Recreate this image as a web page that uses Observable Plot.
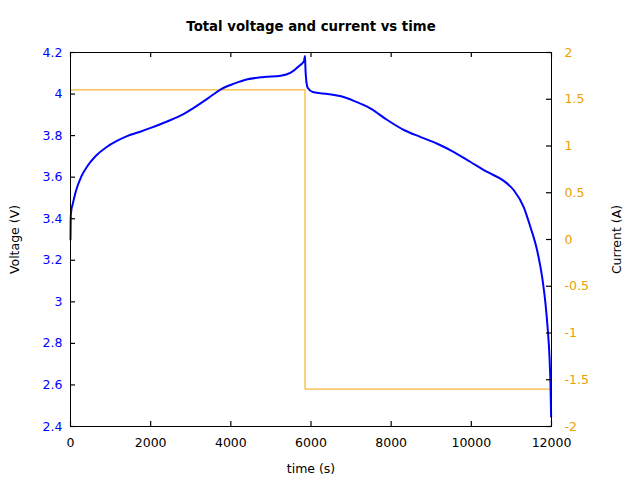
<!DOCTYPE html>
<html><head><meta charset="utf-8">
<script src="https://cdn.jsdelivr.net/npm/d3@7"></script>
<script src="https://cdn.jsdelivr.net/npm/@observablehq/plot@0.6"></script>
<style>body{margin:0;background:#fff} svg{display:block}</style>
</head><body><div id="chart"></div>
<script>
const timeS = [0, 5, 20, 55, 137, 262, 428, 635, 885, 1134, 1383, 1757, 2000, 2255, 2754, 3085, 3419, 3750, 4082, 4415, 4830, 5246, 5495, 5702, 5826, 5850, 5862, 5875, 5917, 6042, 6417, 6750, 7083, 7489, 7904, 8318, 8735, 9151, 9565, 9981, 10397, 10811, 11060, 11309, 11476, 11642, 11767, 11850, 11908, 11950, 11974, 11991];
const voltageV = [3.30, 3.40, 3.44, 3.47, 3.535, 3.60, 3.655, 3.703, 3.743, 3.772, 3.795, 3.82, 3.837, 3.856, 3.897, 3.935, 3.978, 4.023, 4.05, 4.071, 4.082, 4.088, 4.103, 4.135, 4.16, 4.183, 4.12, 4.08, 4.03, 4.01, 4.0, 3.989, 3.966, 3.93, 3.875, 3.827, 3.793, 3.761, 3.721, 3.673, 3.625, 3.582, 3.537, 3.455, 3.359, 3.247, 3.119, 2.991, 2.863, 2.735, 2.607, 2.447];
const currentTimeS = [0, 5851, 11991];
const currentA = [1.6, -1.6, -1.6];
const xTicks = [0, 2000, 4000, 6000, 8000, 10000, 12000];
const voltageTicks = [2.4, 2.6, 2.8, 3.0, 3.2, 3.4, 3.6, 3.8, 4.0, 4.2];
const currentTicks = [-2, -1.5, -1, -0.5, 0, 0.5, 1, 1.5, 2];
const title = "Total voltage and current vs time";
const xLabel = "time (s)";
const yLabel = "Voltage (V)";
const y2Label = "Current (A)";

const vData = timeS.map((t, i) => ({t, v: voltageV[i]}));
const cData = currentTimeS.map((t, i) => ({t, a: currentA[i]}));
const toV = d3.scaleLinear().domain([-2, 2]).range([2.4, 4.2]);

const blue = "#0000ff", orange = "#f4a300", orangeText = "#eba000";
const fs = 12.5;
const W = 640, H = 480, mL = 70, mR = 89, mT = 52, mB = 54, tick = 5;
const fw = W - mL - mR, fh = H - mT - mB;
const tickStroke = "black";

const chart = Plot.plot({
  width: W, height: H,
  marginLeft: mL, marginRight: mR, marginTop: mT, marginBottom: mB,
  style: {fontFamily: "'DejaVu Sans', sans-serif", fontSize: fs + "px", background: "#fff", color: "black"},
  x: {domain: [0, 12000]},
  y: {domain: [2.4, 4.2]},
  marks: [
    Plot.line(cData, {x: "t", y: d => toV(d.a), stroke: orange, strokeWidth: 1, curve: "step-after"}),
    Plot.line(vData, {x: "t", y: "v", stroke: blue, strokeWidth: 2, curve: "monotone-x"}),
    Plot.tickX(xTicks, {x: d => d, insetTop: fh - tick, stroke: tickStroke, strokeWidth: 1.2}),
    Plot.tickX(xTicks, {x: d => d, insetBottom: fh - tick, stroke: tickStroke, strokeWidth: 1.2}),
    Plot.tickY(voltageTicks, {y: d => d, insetRight: fw - tick, stroke: tickStroke, strokeWidth: 1.2}),
    Plot.tickY(currentTicks, {y: d => toV(d), insetLeft: fw - tick, stroke: tickStroke, strokeWidth: 1.2}),
    Plot.axisX(xTicks, {anchor: "bottom", tickSize: 0, tickPadding: 12, tickFormat: d => String(d), label: null, fill: "black"}),
    Plot.axisY(voltageTicks, {anchor: "left", tickSize: 0, tickPadding: 8, tickFormat: d => String(+d.toFixed(1)), label: null, fill: blue}),
    Plot.axisY(currentTicks.map(toV), {anchor: "right", tickSize: 0, tickPadding: 13, tickFormat: d => String(+toV.invert(d).toFixed(2)), label: null, fill: orangeText}),
    Plot.frame({stroke: "black", shapeRendering: "crispEdges"}),
    Plot.text([title], {frameAnchor: "top", text: d => d, dy: -25.3, textAnchor: "middle", lineAnchor: "middle", fontWeight: "bold", fontSize: 13.3, fill: "black"}),
    Plot.text([xLabel], {frameAnchor: "bottom", text: d => d, dy: 42, textAnchor: "middle", lineAnchor: "middle", fill: "black"}),
    Plot.text([yLabel], {frameAnchor: "left", text: d => d, dx: -56, rotate: -90, textAnchor: "middle", lineAnchor: "middle", fill: "black"}),
    Plot.text([y2Label], {frameAnchor: "right", text: d => d, dx: 65, rotate: -90, textAnchor: "middle", lineAnchor: "middle", fill: "black"})
  ]
});
document.getElementById("chart").append(chart);
</script>
</body></html>
